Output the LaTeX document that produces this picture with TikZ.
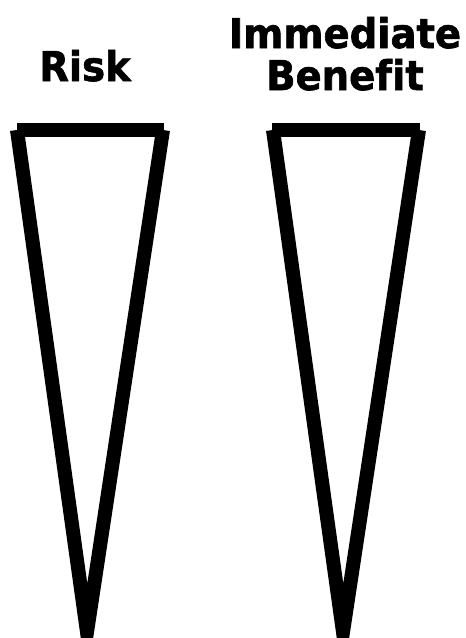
\documentclass[tikz,border=0pt]{standalone}
\usepackage{fontspec}
\setmainfont{DejaVu Sans}
\newfontfamily\tagfont{DejaVu Sans Bold}[FakeStretch=0.94, FakeBold=1.5, Ligatures=NoCommon]
\begin{document}
\begin{tikzpicture}[x=1pt, y=-1pt]
    % --- 定义参数 ---
    \def\lw{14pt}        % 线宽
    \def\barY{130}       % 顶部横线的位置
    \def\apexY{632}      % 尖端的位置

    \tikzset{
        cone/.style={line width=\lw, line cap=butt, line join=miter, miter limit=20},
        label/.style={font=\tagfont\fontsize{41}{42}\selectfont, align=center}
    }

    % --- 画布范围 ---
    \useasboundingbox (0, 0) rectangle (466, 638);
    \clip (0, 0) rectangle (466, 638);

    % --- 左边的倒三角 (Risk) ---
    \coordinate (riskTL) at (17, \barY);
    \coordinate (riskTR) at (163, \barY);
    \coordinate (riskApex) at (87, \apexY);
    \draw[cone] (17, \barY) -- (164, \barY);
    \draw[cone] (riskTL) -- (riskApex) -- (riskTR);

    % --- 右边的倒三角 (Immediate Benefit) ---
    \coordinate (benefitTL) at (273, \barY);
    \coordinate (benefitTR) at (419, \barY);
    \coordinate (benefitApex) at (343, \apexY);
    \draw[cone] (272, \barY) -- (420, \barY);
    \draw[cone] (benefitTL) -- (benefitApex) -- (benefitTR);

    % --- 标签 ---
    \node[label, anchor=base] (risk) at (85, 81) {Risk};
    \node[label, anchor=base] (benefit) at (345, 90) {Immediate\\Benefit};

\end{tikzpicture}
\end{document}
